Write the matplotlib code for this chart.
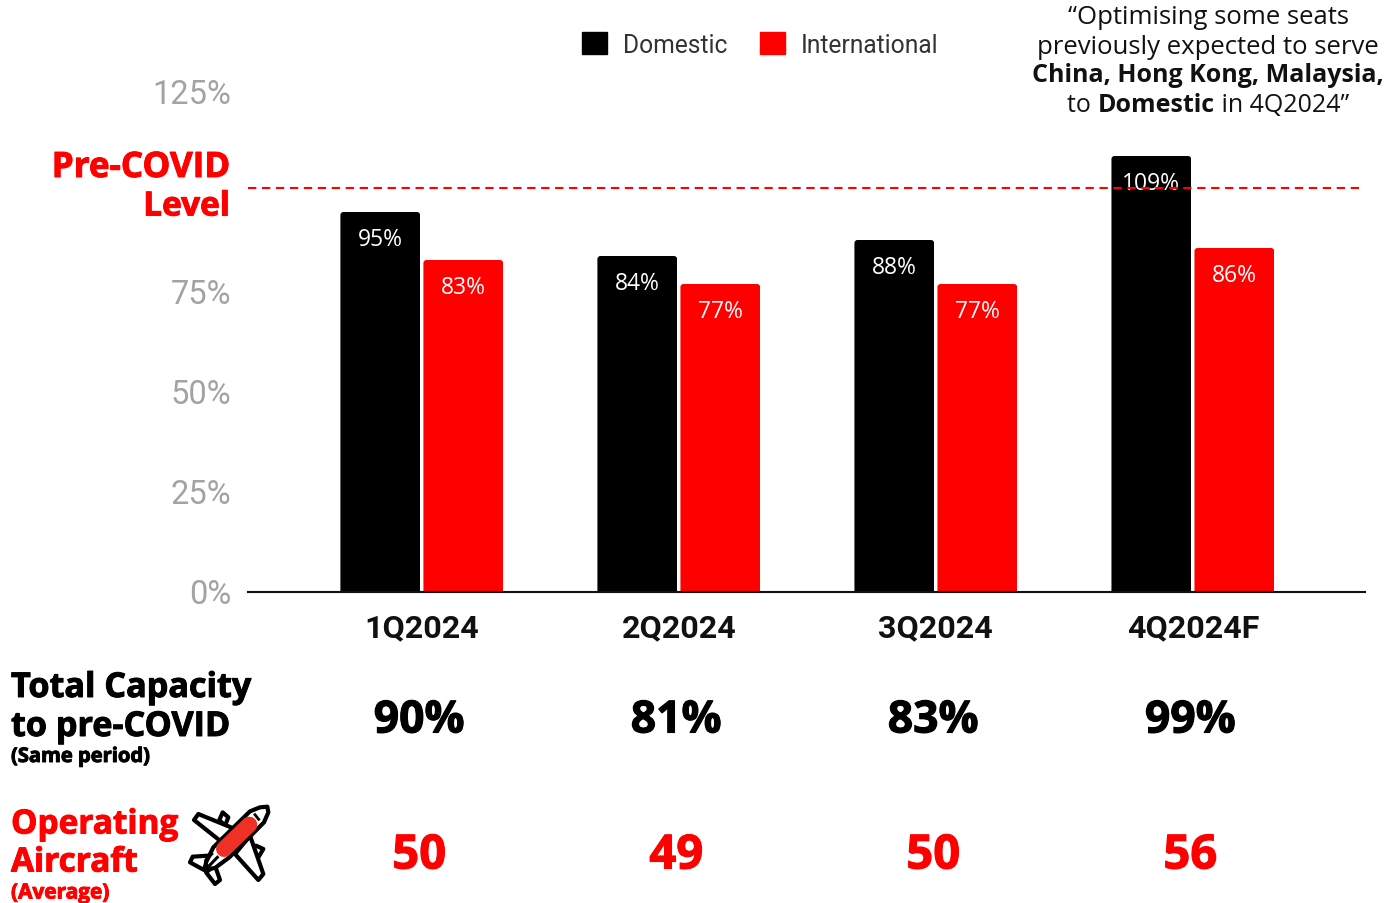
import matplotlib
matplotlib.use("Agg")
import matplotlib.pyplot as plt
import matplotlib.patheffects as pe
from matplotlib.patches import FancyBboxPatch, Patch, Polygon
from matplotlib.transforms import blended_transform_factory, ScaledTranslation

W, H = 1386, 904

quarters = ["1Q2024", "2Q2024", "3Q2024", "4Q2024F"]
domestic = [95, 84, 88, 109]
international = [83, 77, 77, 86]
total_capacity = ["90%", "81%", "83%", "99%"]
operating_aircraft = ["50", "49", "50", "56"]
pre_covid_level = 101
y_ticks = [0, 25, 50, 75, 125]
y_tick_labels = ["0%", "25%", "50%", "75%", "125%"]

RED = "#ff0000"
HEAD = "Open Sans"
plt.rcParams["font.family"] = ["Roboto", "DejaVu Sans"]

fig = plt.figure(figsize=(W / 100, H / 100), dpi=100, facecolor="white")
ax = fig.add_axes([248 / W, 1 - 593 / H, (1365 - 248) / W, 500 / H])
ax.set_xlim(-0.676, 3.670)
ax.set_ylim(0, 125)
for side in ("top", "left", "right"):
    ax.spines[side].set_visible(False)
ax.spines["bottom"].set_linewidth(1.5)
ax.spines["bottom"].set_color("#111111")

# Overlay in pixel units for the annotation text and the aircraft icon
px = fig.add_axes([0, 0, 1, 1], facecolor="none")
px.set_xlim(0, W)
px.set_ylim(H, 0)
px.axis("off")

BAR_W = 0.31
OFFSET = 0.1615


def rounded_bars(xs, values, color):
    bars = ax.bar(xs, values, BAR_W, color=color, zorder=2)
    for bar, v in zip(bars, values):
        clip = FancyBboxPatch((bar.get_x(), -5), BAR_W, v + 5,
                              boxstyle="round,pad=0,rounding_size=0.012",
                              mutation_aspect=64, transform=ax.transData)
        bar.set_clip_path(clip)
    for x, v in zip(xs, values):
        ax.annotate(f"{v}%", (x, v), xytext=(0, -19.5), textcoords="offset points",
                    ha="center", va="center", color="white", fontsize=16.5,
                    family="Open Sans", zorder=3)


groups = list(range(len(quarters)))
rounded_bars([g - OFFSET for g in groups], domestic, "black")
rounded_bars([g + OFFSET for g in groups], international, RED)

ax.plot([-0.675, 3.649], [pre_covid_level] * 2, color=RED, lw=1.5,
        dashes=(4.0, 2.7), zorder=4)

ax.set_yticks(y_ticks, y_tick_labels)
ax.tick_params(axis="y", length=0, pad=12, labelsize=23.5, labelcolor="#a3a3a3")
ax.set_xticks(groups, quarters)
ax.tick_params(axis="x", length=0, pad=14.3, labelsize=23.2, labelcolor="#111111")
for lab in ax.get_xticklabels():
    lab.set_fontweight("bold")
nudge_up = ScaledTranslation(0, 1.2 / 72, fig.dpi_scale_trans)
for lab in ax.get_yticklabels():
    lab.set_transform(lab.get_transform() + nudge_up)

handles = [Patch(fc="black", ec="black", lw=1, joinstyle="round", label="Domestic"),
           Patch(fc=RED, ec=RED, lw=1, joinstyle="round", label="International")]
legend = fig.legend(handles=handles, ncol=2, loc="center left",
                    bbox_to_anchor=(582 / W, 1 - 45.5 / H), frameon=False,
                    fontsize=17.7, handlelength=1, handleheight=1, borderpad=0,
                    borderaxespad=0, handletextpad=0.66, columnspacing=1.35,
                    labelcolor="#333333")


def label(x, y, s, size, color="black", ha="left", family=HEAD):
    t = px.text(x, y + 3, s, fontsize=size, color=color, ha=ha, va="center",
                fontweight="bold", family=family)
    t.set_path_effects([pe.withStroke(linewidth=0.7, foreground=color)])
    return t


label(230, 166, "Pre-COVID", 25.2, RED, "right")
label(230, 205, "Level", 24, RED, "right")
label(11, 686, "Total Capacity", 24.6)
label(11, 725, "to pre-COVID", 24.6)
label(11, 755, "(Same period)", 14.5)
label(11, 823, "Operating", 24, RED)
label(11, 861, "Aircraft", 24, RED)
label(11, 891, "(Average)", 15, RED)

# Figures under each quarter: x follows the bar groups, y is in pixels
mixed = blended_transform_factory(ax.transData, px.transData)
for g, cap, fleet in zip(groups, total_capacity, operating_aircraft):
    for y, s, c, size in ((722, cap, "black", 32), (857, fleet, RED, 34)):
        t = px.text(g - 0.01, y, s, transform=mixed, fontsize=size, fontweight="bold",
                    family=HEAD, ha="center", va="center", color=c)
        t.set_path_effects([pe.withStroke(linewidth=0.8, foreground=c)])


def centered_runs(cx, y, runs, size):
    """Lay out regular and bold runs side by side, centred as one line."""
    renderer = fig.canvas.get_renderer()
    items = [px.text(0, y, s, fontsize=size, family=HEAD, va="center", ha="left",
                     fontweight="bold" if bold else "normal", color="#111111")
             for s, bold in runs]
    widths = [t.get_window_extent(renderer).width for t in items]
    x = cx - sum(widths) / 2
    for t, w in zip(items, widths):
        t.set_x(x)
        x += w


centered_runs(1208, 18, [("\u201cOptimising some seats", False)], 18.5)
centered_runs(1208, 47, [("previously expected to serve", False)], 18.5)
centered_runs(1208, 75, [("China, Hong Kong, Malaysia,", True)], 18.0)
centered_runs(1208, 105, [("to\u00a0", False), ("Domestic", True), ("\u00a0in 4Q2024\u201d", False)], 18.0)


# Aircraft icon, outlined shapes on a 300-unit grid placed beside the label
def icon(pts):
    return [(180 + a / 3, 795 + b / 3) for a, b in pts]


def shape(pts, z=5, fc="white"):
    px.add_patch(Polygon(icon(pts), closed=True, fc=fc, ec="black", lw=3,
                         joinstyle="round", zorder=z))


shape([(118, 78), (128, 55), (145, 70), (135, 95)])
shape([(228, 155), (250, 165), (235, 190), (210, 175)])
shape([(165, 105), (55, 60), (42, 78), (120, 140)])
shape([(210, 125), (250, 240), (235, 258), (165, 180)])
shape([(85, 185), (38, 188), (30, 205), (72, 228)])
shape([(105, 215), (120, 258), (105, 270), (78, 235)])
shape([(100, 160), (210, 52), (240, 40), (262, 38), (265, 55), (252, 85),
       (148, 190), (105, 222), (78, 226), (78, 205)], z=6)
px.plot(*zip(*icon([(208, 92), (132, 165)])), color="#ee3124", lw=11.5,
        solid_capstyle="round", zorder=7)
px.plot(*zip(*icon([(225, 62), (236, 76)])), color="black", lw=2, zorder=8)
px.plot(*zip(*icon([(78, 198), (95, 180)])), color="black", lw=2.2, zorder=8)
px.plot(*zip(*icon([(88, 215), (112, 190)])), color="black", lw=2.2, zorder=8)

fig.savefig("out.png", dpi=100)
